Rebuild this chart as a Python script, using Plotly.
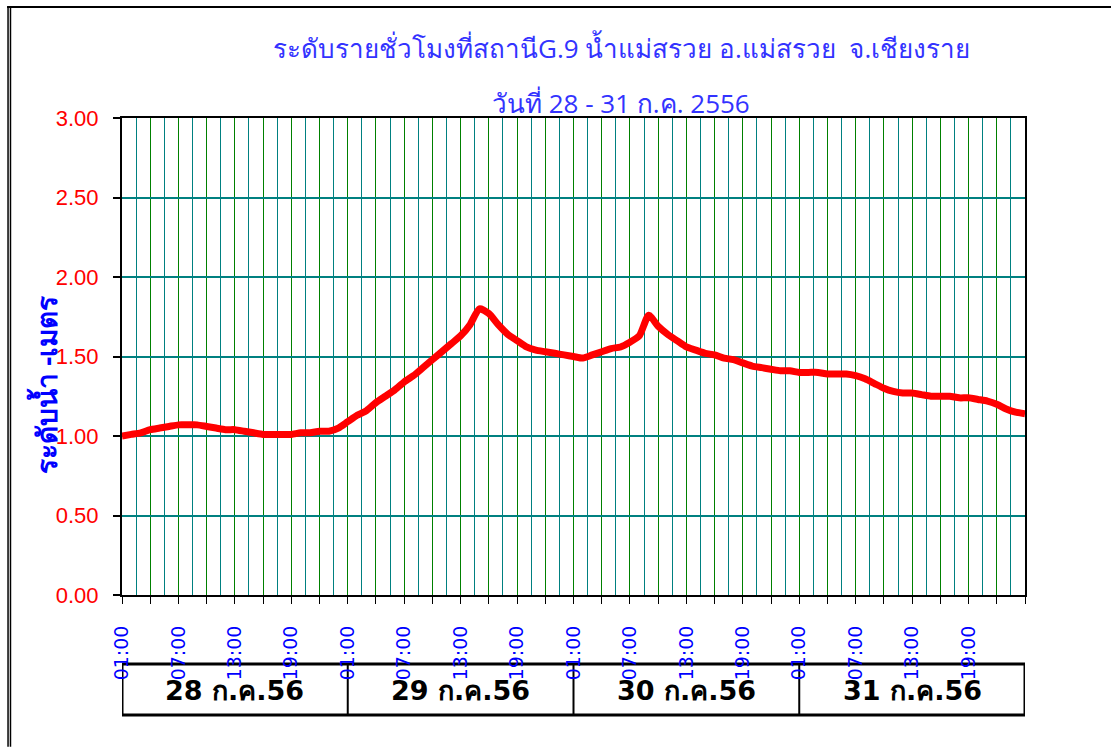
import pandas as pd
import plotly.graph_objects as go

# ---------------- data ----------------
start_time = "2013-07-28 01:00"
n_hours = 97
times = pd.date_range(start_time, periods=n_hours, freq="h")

water_level = [
    1.00, 1.01, 1.02, 1.04, 1.05, 1.06, 1.07, 1.07, 1.07, 1.06,
    1.05, 1.04, 1.04, 1.03, 1.02, 1.01, 1.01, 1.01, 1.01, 1.02,
    1.02, 1.03, 1.03, 1.05, 1.09, 1.13, 1.16, 1.21, 1.25, 1.29,
    1.34, 1.38, 1.43, 1.48, 1.53, 1.58, 1.63, 1.70, 1.80, 1.77,
    1.70, 1.64, 1.60, 1.56, 1.54, 1.53, 1.52, 1.51, 1.50, 1.49,
    1.51, 1.53, 1.55, 1.56, 1.59, 1.63, 1.76, 1.69, 1.64, 1.60,
    1.56, 1.54, 1.52, 1.51, 1.49, 1.48, 1.46, 1.44, 1.43, 1.42,
    1.41, 1.41, 1.40, 1.40, 1.40, 1.39, 1.39, 1.39, 1.38, 1.36,
    1.33, 1.30, 1.28, 1.27, 1.27, 1.26, 1.25, 1.25, 1.25, 1.24,
    1.24, 1.23, 1.22, 1.20, 1.17, 1.15, 1.14,
]

tick_times = pd.date_range(start_time, periods=33, freq="3h")
tick_labels = [t.strftime("%H:%M") if i % 2 == 0 and i < 32 else "" for i, t in enumerate(tick_times)]

day_starts = pd.date_range(start_time, periods=5, freq="D")
day_labels = ["28 ก.ค.56", "29 ก.ค.56", "30 ก.ค.56", "31 ก.ค.56"]

y_ticks = [0.0, 0.5, 1.0, 1.5, 2.0, 2.5, 3.0]

title_line1 = "ระดับรายชั่วโมงที่สถานีG.9 น้ำแม่สรวย อ.แม่สรวย  จ.เชียงราย"
title_line2 = "วันที่ 28 - 31 ก.ค. 2556"
y_title = "ระดับน้ำ -เมตร"

# ---------------- figure ----------------
fig = go.Figure()
fig.add_trace(go.Scatter(
    x=times, y=water_level, mode="lines",
    line=dict(color="#FF0000", width=7, shape="spline", smoothing=0.6),
    hoverinfo="x+y", showlegend=False,
))

GREEN = "#008000"
TEAL = "#008080"

fig.update_xaxes(
    range=[day_starts[0], day_starts[-1]],
    tickmode="array", tickvals=tick_times, ticktext=tick_labels,
    tickangle=-90,
    tickfont=dict(family="DejaVu Sans", size=19, color="#0000FF"),
    ticks="outside", ticklen=7, tickcolor="black", tickwidth=1,
    ticklabelstandoff=14,
    showgrid=True, gridcolor=GREEN, gridwidth=1,
    minor=dict(tickmode="linear", tick0=start_time, dtick=5400000,
               showgrid=True, gridcolor=TEAL, gridwidth=1, ticks=""),
    showline=True, linecolor="black", linewidth=2, mirror=True,
    zeroline=False,
)
fig.update_yaxes(
    range=[0, 3], tickmode="array", tickvals=y_ticks,
    ticktext=[f"{v:.2f}" for v in y_ticks],
    tickfont=dict(family="Liberation Sans", size=22, color="#FF0000"),
    ticks="outside", ticklen=7, tickcolor="black", tickwidth=2,
    ticklabelstandoff=10,
    showgrid=True, gridcolor=TEAL, gridwidth=1.5,
    showline=True, linecolor="black", linewidth=2, mirror=True,
    zeroline=False,
)

shapes = []
annotations = []

# day boxes under the axis
box_y0, box_y1 = -0.2516, -0.1447
shapes.append(dict(type="rect", xref="x", yref="paper",
                   x0=day_starts[0], x1=day_starts[-1], y0=box_y0, y1=box_y1,
                   line=dict(color="black", width=3), layer="below"))
for d in day_starts[1:-1]:
    shapes.append(dict(type="line", xref="x", yref="paper",
                       x0=d, x1=d, y0=box_y0, y1=box_y1,
                       line=dict(color="black", width=2), layer="below"))
for i, lab in enumerate(day_labels):
    mid = day_starts[i] + (day_starts[i + 1] - day_starts[i]) / 2
    annotations.append(dict(xref="x", yref="paper", x=mid, y=(box_y0 + box_y1) / 2 - 0.003,
                            text=f"<b>{lab}</b>", showarrow=False,
                            font=dict(family="DejaVu Sans", size=27, color="black"),
                            xanchor="center", yanchor="middle"))

# outer frame
shapes.append(dict(type="line", xref="paper", yref="paper",
                   x0=-0.1273, x1=1.0953, y0=1.2327, y1=1.2327,
                   line=dict(color="black", width=2)))
for xp in (-0.1262, -0.1235):
    shapes.append(dict(type="line", xref="paper", yref="paper",
                       x0=xp, x1=xp, y0=1.2327, y1=-0.318,
                       line=dict(color="black", width=1.5)))

# titles
annotations.append(dict(xref="paper", yref="paper", x=0.5537, y=1.1468,
                        text=title_line1, showarrow=False,
                        font=dict(size=26, color="#3333FF"),
                        xanchor="center", yanchor="middle"))
annotations.append(dict(xref="paper", yref="paper", x=0.5526, y=1.0314,
                        text=title_line2, showarrow=False,
                        font=dict(size=26, color="#3333FF"),
                        xanchor="center", yanchor="middle"))
annotations.append(dict(xref="paper", yref="paper", x=-0.0853, y=0.44,
                        text=f"<b>{y_title}</b>", showarrow=False, textangle=-90,
                        font=dict(size=28, color="#0000FF"),
                        xanchor="center", yanchor="middle"))

fig.update_layout(
    width=1111, height=747,
    margin=dict(l=122, r=86, t=118, b=152),
    paper_bgcolor="white", plot_bgcolor="white",
    shapes=shapes, annotations=annotations,
    showlegend=False,
)

fig.write_html("out.html", config={"displayModeBar": False},
               post_script=("document.body.style.margin='0';"
                            "document.body.style.overflow='hidden';"
                            "document.documentElement.style.overflow='hidden';"))
